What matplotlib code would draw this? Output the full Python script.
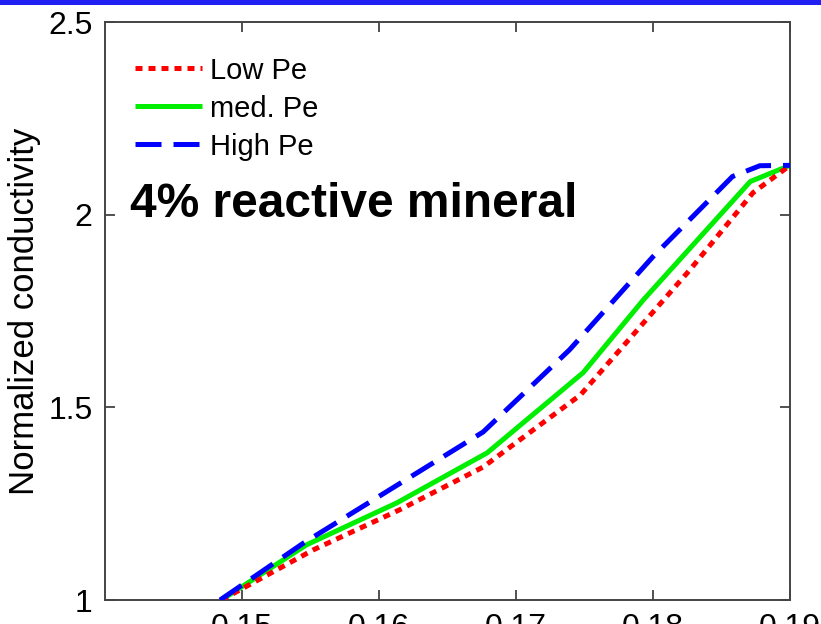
import matplotlib
matplotlib.use("Agg")
import matplotlib.pyplot as plt
from matplotlib.patches import Rectangle

# Normalized conductivity vs porosity for three Peclet numbers
low_x = [0.1485, 0.1552, 0.1615, 0.1676, 0.1747, 0.1827, 0.1873, 0.1900]
low_y = [1.000, 1.130, 1.234, 1.345, 1.532, 1.857, 2.057, 2.128]

med_x = [0.1485, 0.1547, 0.1613, 0.1679, 0.1749, 0.1793, 0.1871, 0.1900]
med_y = [1.000, 1.143, 1.252, 1.382, 1.590, 1.779, 2.086, 2.128]

high_x = [0.1484, 0.1545, 0.1676, 0.1739, 0.1800, 0.1858, 0.1878, 0.1900]
high_y = [1.000, 1.148, 1.436, 1.649, 1.891, 2.099, 2.127, 2.128]

series_labels = ["Low Pe", "med. Pe", "High Pe"]
x_ticks = [0.15, 0.16, 0.17, 0.18, 0.19]
x_tick_labels = ["0.15", "0.16", "0.17", "0.18", "0.19"]
y_ticks = [1.0, 1.5, 2.0, 2.5]
y_tick_labels = ["1", "1.5", "2", "2.5"]

plt.rcParams["font.family"] = ["Liberation Sans", "DejaVu Sans"]

fig = plt.figure(figsize=(8.21, 6.24), dpi=100)
fig.patch.set_facecolor("white")

# slide header strip
fig.add_artist(Rectangle((0, 1 - 5 / 624), 1, 5 / 624, transform=fig.transFigure,
                         facecolor="#2020f4", edgecolor="none"))

ax = fig.add_axes([105 / 821, 24 / 624, 685 / 821, 578 / 624])

lw = 3.6
ax.plot(low_x, low_y, color="#ff0000", lw=lw, dashes=(1.4, 1.2),
        dash_capstyle="butt", label=series_labels[0], zorder=3)
ax.plot(med_x, med_y, color="#00ee00", lw=lw, solid_capstyle="butt",
        label=series_labels[1], zorder=2)
ax.plot(high_x, high_y, color="#0000ff", lw=lw, dashes=(5.2, 2.4),
        dash_capstyle="butt", label=series_labels[2], zorder=4)

ax.set_xlim(0.14, 0.19)
ax.set_ylim(1.0, 2.5)
ax.set_xticks(x_ticks)
ax.set_xticklabels(x_tick_labels)
ax.set_yticks(y_ticks)
ax.set_yticklabels(y_tick_labels)

ax.tick_params(direction="in", length=7, width=1.2, colors="#333333",
               labelcolor="black", labelsize=23, top=True, right=True, pad=9)
for s in ax.spines.values():
    s.set_color("#444444")
    s.set_linewidth(1.4)

ax.set_ylabel("Normalized conductivity", fontsize=25, labelpad=5)

ax.text(0.037, 0.663, "4% reactive mineral", transform=ax.transAxes,
        fontsize=34.5, fontweight="bold", ha="left", va="baseline")

leg = ax.legend(loc="upper left", bbox_to_anchor=(0.044, 0.94), frameon=False,
                fontsize=21, handlelength=2.3, handletextpad=0.25,
                labelspacing=0.34, borderpad=0, borderaxespad=0)

fig.savefig("out.png", dpi=100)
